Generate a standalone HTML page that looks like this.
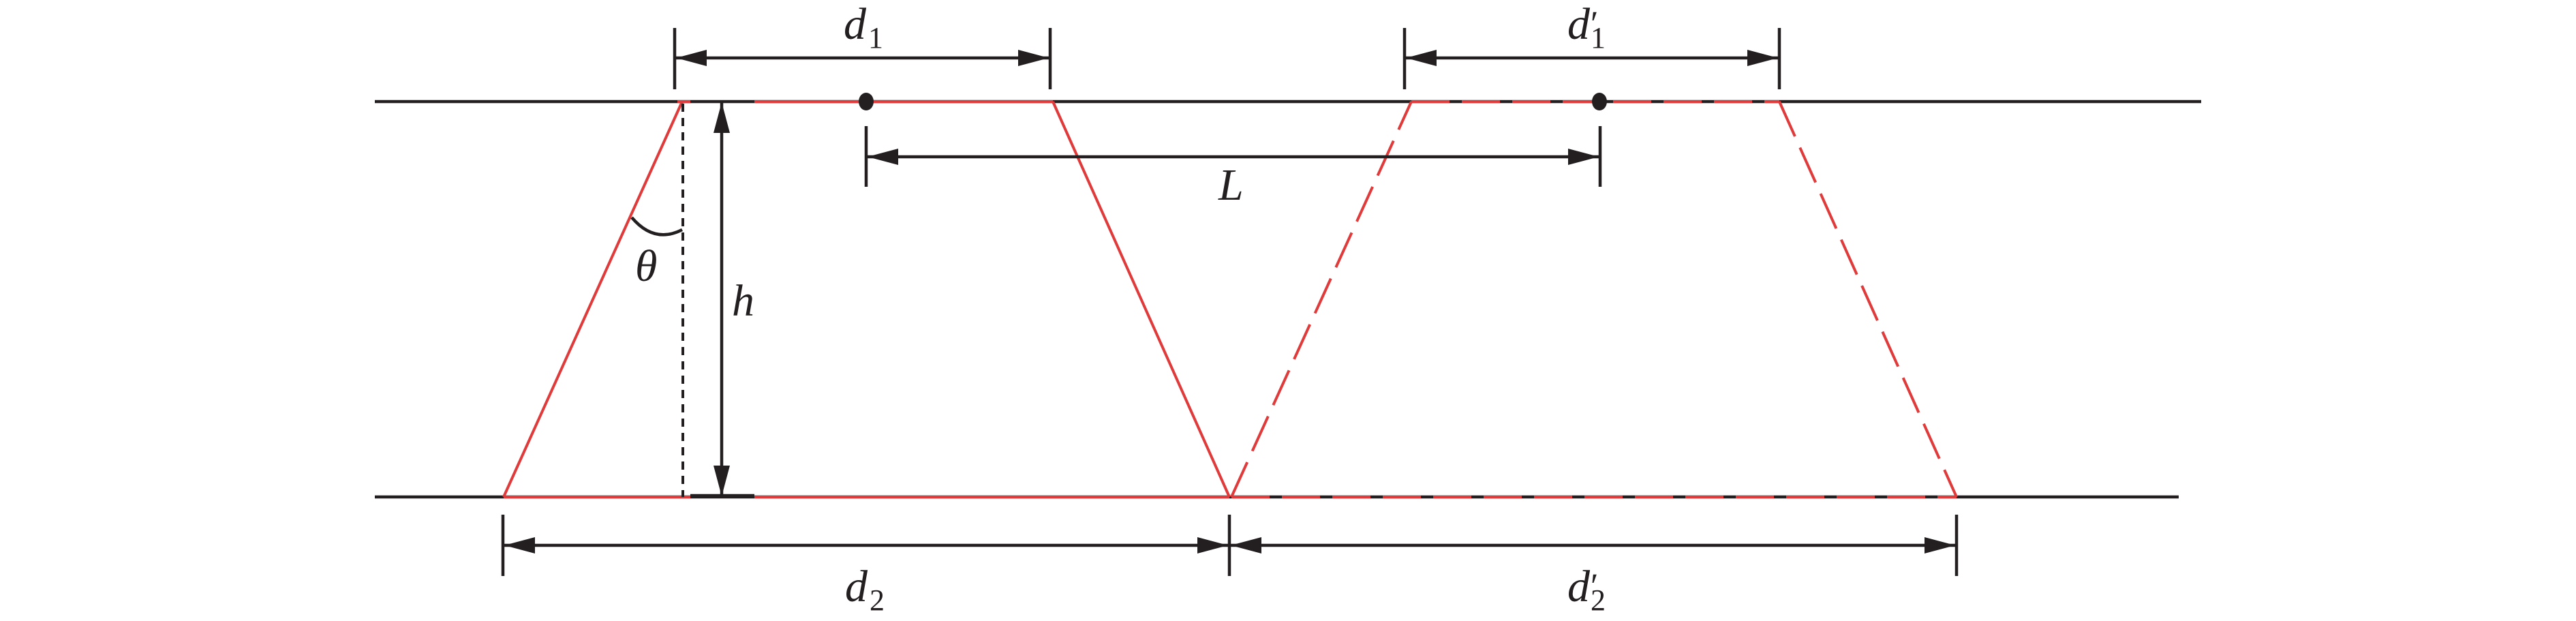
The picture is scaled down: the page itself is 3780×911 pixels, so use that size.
<!DOCTYPE html>
<html><head><meta charset="utf-8"><style>
html,body{margin:0;padding:0;background:#fff;}
svg{display:block;}
text{font-family:"Liberation Serif",serif;fill:#231f20;}
.i{font-style:italic;font-size:66px;}
.s{font-size:44px;}
.p{font-size:52px;}
</style></head><body>
<svg width="3780" height="911" viewBox="0 0 3780 911" xmlns="http://www.w3.org/2000/svg">
<defs>
<marker id="a" viewBox="0 0 45 24" refX="45" refY="12" markerWidth="45" markerHeight="24" markerUnits="userSpaceOnUse" orient="auto-start-reverse">
<path d="M0,0 L45,12 L0,24 Z" fill="#231f20"/>
</marker>
</defs>
<g stroke="#231f20" stroke-width="4.5" fill="none">
<line x1="550" y1="149" x2="3230" y2="149"/>
<line x1="550" y1="729" x2="3197" y2="729"/>
</g>
<g stroke="#e03a3a" stroke-width="4" fill="none">
<line x1="1107" y1="149" x2="1545" y2="149"/>
<line x1="994" y1="149" x2="1013" y2="149"/>
<line x1="1001" y1="149" x2="739" y2="729"/>
<line x1="1545" y1="149" x2="1804" y2="729"/>
<line x1="739" y1="729" x2="1013" y2="729"/>
<line x1="1107" y1="729" x2="1804" y2="729"/>
</g>
<g stroke="#e03a3a" stroke-width="4" fill="none" stroke-dasharray="56 18">
<line x1="2071" y1="149" x2="2611" y2="149"/>
<line x1="1807" y1="729" x2="2871" y2="729"/>
<line x1="1807" y1="729" x2="2071" y2="149"/>
<line x1="2611" y1="149" x2="2871" y2="729"/>
</g>
<line x1="1002" y1="152" x2="1002" y2="729" stroke="#231f20" stroke-width="4" stroke-dasharray="12 9"/>
<path d="M927,319 Q960,358 1001,337" stroke="#231f20" stroke-width="4.5" fill="none"/>
<line x1="1059" y1="150" x2="1059" y2="728" stroke="#231f20" stroke-width="4.5" marker-start="url(#a)" marker-end="url(#a)"/>
<line x1="1013" y1="727" x2="1107" y2="727" stroke="#231f20" stroke-width="4.5"/>
<ellipse cx="1271" cy="149" rx="11" ry="13" fill="#231f20"/>
<ellipse cx="2347" cy="149" rx="11" ry="13" fill="#231f20"/>
<g stroke="#231f20" stroke-width="4.5" fill="none">
<line x1="990" y1="41" x2="990" y2="131"/>
<line x1="1541" y1="41" x2="1541" y2="131"/>
<line x1="992" y1="85" x2="1539" y2="85" marker-start="url(#a)" marker-end="url(#a)"/>
<line x1="2061" y1="41" x2="2061" y2="131"/>
<line x1="2611" y1="41" x2="2611" y2="131"/>
<line x1="2063" y1="85" x2="2609" y2="85" marker-start="url(#a)" marker-end="url(#a)"/>
<line x1="1271" y1="185" x2="1271" y2="274"/>
<line x1="2348" y1="185" x2="2348" y2="274"/>
<line x1="1273" y1="230" x2="2346" y2="230" marker-start="url(#a)" marker-end="url(#a)"/>
<line x1="738" y1="755" x2="738" y2="845"/>
<line x1="1804" y1="755" x2="1804" y2="845"/>
<line x1="2871" y1="755" x2="2871" y2="845"/>
<line x1="740" y1="800" x2="1802" y2="800" marker-start="url(#a)" marker-end="url(#a)"/>
<line x1="1806" y1="800" x2="2869" y2="800" marker-start="url(#a)" marker-end="url(#a)"/>
</g>
<text class="i" x="1238" y="57">d</text><text class="s" x="1274" y="70">1</text>
<text class="i" x="2300" y="57">d</text><text class="p" x="2334" y="52">′</text><text class="s" x="2334" y="70">1</text>
<text class="i" x="1788" y="293">L</text>
<text class="i" x="932" y="412">θ</text>
<text class="i" x="1074" y="463">h</text>
<text class="i" x="1240" y="882">d</text><text class="s" x="1276" y="895">2</text>
<text class="i" x="2300" y="882">d</text><text class="p" x="2334" y="877">′</text><text class="s" x="2334" y="895">2</text>
</svg>
</body></html>
